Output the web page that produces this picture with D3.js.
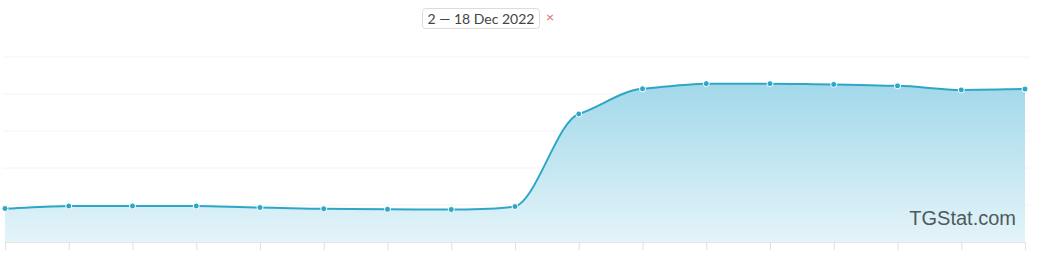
<!DOCTYPE html>
<html><head><meta charset="utf-8">
<script src="https://cdn.jsdelivr.net/npm/d3@7"></script>
<style>
html,body{margin:0;padding:0;background:#fff;}
svg{display:block;}
</style></head>
<body>
<svg id="c" width="1038" height="254"></svg>
<script>
const days = ["2 Dec","3 Dec","4 Dec","5 Dec","6 Dec","7 Dec","8 Dec","9 Dec","10 Dec","11 Dec","12 Dec","13 Dec","14 Dec","15 Dec","16 Dec","17 Dec","18 Dec"];
const values = [9.05,9.73,9.73,9.73,9.32,8.97,8.84,8.78,9.59,34.6,41.4,42.8,42.8,42.6,42.2,41.1,41.35];
const gridTicks = [0,10,20,30,40,50];
const rangeLabel = "2 — 18 Dec 2022";
const watermark = "TGStat.com";

const svg = d3.select("#c");
const x = d3.scalePoint().domain(days).range([5,1025]);
const y = d3.scaleLinear().domain([0,50]).range([242,57]);

const defs = svg.append("defs");
const g = defs.append("linearGradient").attr("id","ag")
  .attr("gradientUnits","userSpaceOnUse").attr("x1",0).attr("x2",0).attr("y1",y(43)).attr("y2",y(0));
g.append("stop").attr("offset","0%").attr("stop-color","#a2d8ea");
g.append("stop").attr("offset","100%").attr("stop-color","#e4f4f9");

// gridlines
svg.append("g").selectAll("line").data(gridTicks.slice(1)).join("line")
  .attr("x1",3).attr("x2",1030).attr("y1",d=>y(d)).attr("y2",d=>y(d))
  .attr("stroke","#f4f4f4").attr("stroke-width",1);

const data = days.map((d,i)=>({d,v:values[i]}));
const pts = data.map(p=>({x:x(p.d), y:y(p.v)}));

// tension-style smoothing (stronger horizontally than vertically), clamped per segment
function smoothPath(ps, ctx){
  const kx = 1.0, ky = 0.35;
  ctx.moveTo(ps[0].x, ps[0].y);
  for(let i=0;i<ps.length-1;i++){
    const p0 = ps[i-1]||ps[i], p1 = ps[i], p2 = ps[i+1], p3 = ps[i+2]||ps[i+1];
    const lo = Math.min(p1.y,p2.y), hi = Math.max(p1.y,p2.y);
    const cl = v => Math.max(lo, Math.min(hi, v));
    const ax_ = p1.x + (p2.x-p0.x)/6*kx, ay_ = cl(p1.y + (p2.y-p0.y)/6*ky);
    const bx_ = p2.x - (p3.x-p1.x)/6*kx, by_ = cl(p2.y - (p3.y-p1.y)/6*ky);
    ctx.bezierCurveTo(ax_, ay_, bx_, by_, p2.x, p2.y);
  }
  return ctx;
}
const lp = smoothPath(pts, d3.path()).toString();
const ap = smoothPath(pts, d3.path());
ap.lineTo(pts[pts.length-1].x, y(0)); ap.lineTo(pts[0].x, y(0)); ap.closePath();

svg.append("path").attr("d",ap.toString()).attr("fill","url(#ag)");
svg.append("path").attr("d",lp).attr("fill","none").attr("stroke","#2ea7c7").attr("stroke-width",2);

// x axis baseline + ticks
const ax = svg.append("g").attr("transform",`translate(0,${y(0)})`)
  .call(d3.axisBottom(x).tickSize(8).tickFormat(""));
ax.select(".domain").attr("stroke","#e6e6e6");
ax.selectAll(".tick line").attr("stroke","#e0e0e0");

svg.append("g").selectAll("circle").data(data).join("circle")
  .attr("cx",p=>x(p.d)).attr("cy",p=>y(p.v)).attr("r",3)
  .attr("fill","#2ea7c7").attr("stroke","#fff").attr("stroke-width",1);

// watermark
svg.append("text").attr("x",1016).attr("y",225).attr("text-anchor","end")
  .attr("font-family","Liberation Sans, Arial, sans-serif").attr("font-size",20)
  .attr("fill","#505a5e").text(watermark);

// range label
svg.append("rect").attr("x",422.5).attr("y",8.5).attr("width",117).attr("height",20).attr("rx",3)
  .attr("fill","#fff").attr("stroke","#dcdcdc");
svg.append("text").attr("x",481).attr("y",23.5).attr("text-anchor","middle")
  .attr("font-family","Lato, sans-serif").attr("font-size",14).attr("fill","#444").text(rangeLabel);
svg.append("text").attr("x",550).attr("y",22).attr("text-anchor","middle")
  .attr("font-family","Lato, sans-serif").attr("font-size",14).attr("fill","#e06a6a").text("×");
</script>
</body></html>
